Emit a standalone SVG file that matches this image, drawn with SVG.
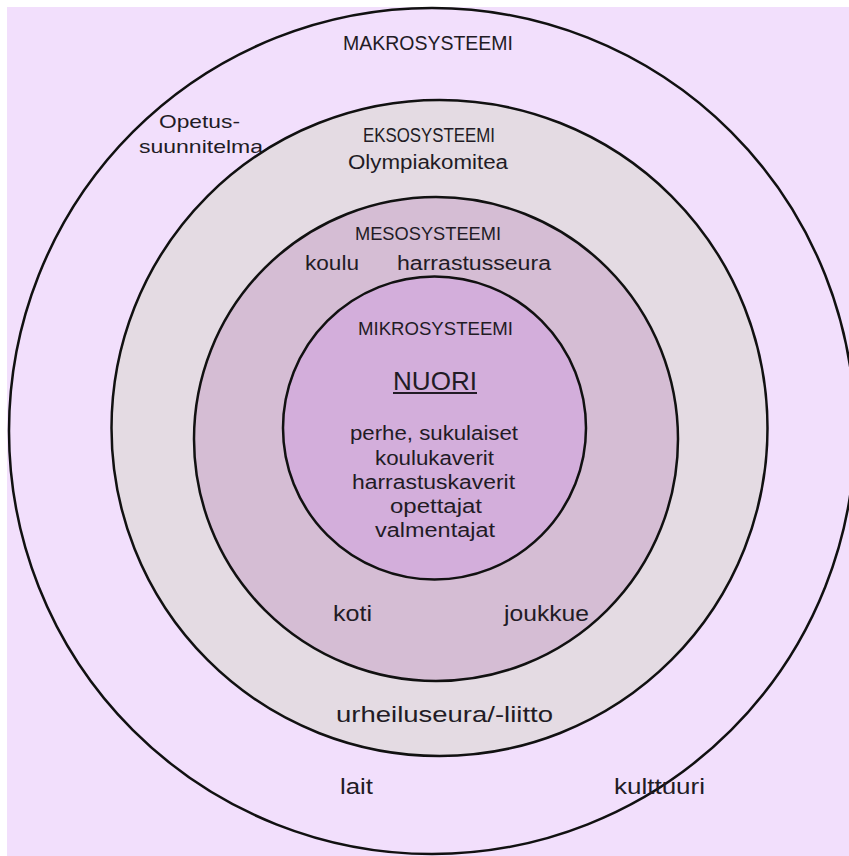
<svg xmlns="http://www.w3.org/2000/svg" width="849" height="856" viewBox="0 0 849 856">
  <style>
    .ring { stroke: #111111; stroke-width: 2.5; }
    text { font-family: "Liberation Sans", Arial, sans-serif; fill: #221b25; }
    .t { font-size: 20px; }
    .big { font-size: 22.5px; }
  </style>
  <rect x="7" y="7" width="842" height="849" fill="#f2dffc"/>
  <g id="makrosysteemi">
    <circle class="ring" cx="432" cy="431" r="423" fill="#f2dffc"/>
    <text x="343" y="50" font-size="21" textLength="170" lengthAdjust="spacingAndGlyphs">MAKROSYSTEEMI</text>
    <text x="159" y="128" font-size="18.5" textLength="81" lengthAdjust="spacingAndGlyphs">Opetus-</text>
    <text x="139" y="153" font-size="18.5" textLength="124" lengthAdjust="spacingAndGlyphs">suunnitelma</text>
    <text class="big" x="340" y="794" textLength="33" lengthAdjust="spacingAndGlyphs">lait</text>
    <text class="big" x="614" y="794" textLength="91" lengthAdjust="spacingAndGlyphs">kulttuuri</text>
  </g>
  <g id="eksosysteemi">
    <circle class="ring" cx="439.5" cy="428" r="328" fill="#e4dbe3"/>
    <text x="363" y="142" font-size="19.5" textLength="132" lengthAdjust="spacingAndGlyphs">EKSOSYSTEEMI</text>
    <text x="348" y="169" font-size="19.5" textLength="160" lengthAdjust="spacingAndGlyphs">Olympiakomitea</text>
    <text class="big" x="336" y="722" textLength="217" lengthAdjust="spacingAndGlyphs">urheiluseura/-liitto</text>
  </g>
  <g id="mesosysteemi">
    <circle class="ring" cx="436" cy="439" r="242" fill="#d5bdd4"/>
    <text x="355" y="240" font-size="18.5" textLength="146" lengthAdjust="spacingAndGlyphs">MESOSYSTEEMI</text>
    <text x="305" y="270" font-size="19.5" textLength="54" lengthAdjust="spacingAndGlyphs">koulu</text>
    <text x="397" y="270" font-size="19.5" textLength="154" lengthAdjust="spacingAndGlyphs">harrastusseura</text>
    <text class="big" x="333" y="621" textLength="39" lengthAdjust="spacingAndGlyphs">koti</text>
    <text class="big" x="504" y="621" textLength="85" lengthAdjust="spacingAndGlyphs">joukkue</text>
  </g>
  <g id="mikrosysteemi">
    <circle class="ring" cx="434.5" cy="428" r="151.5" fill="#d3aedb"/>
    <text x="358" y="335" font-size="18.5" textLength="155" lengthAdjust="spacingAndGlyphs">MIKROSYSTEEMI</text>
    <text x="393" y="390" font-size="26.5" textLength="84" lengthAdjust="spacingAndGlyphs">NUORI</text>
    <line x1="393" y1="393" x2="477" y2="393" stroke="#221b25" stroke-width="1.8"/>
    <text class="t" x="350" y="440" textLength="168" lengthAdjust="spacingAndGlyphs">perhe, sukulaiset</text>
    <text class="t" x="375" y="465" textLength="119" lengthAdjust="spacingAndGlyphs">koulukaverit</text>
    <text class="t" x="352" y="489" textLength="163" lengthAdjust="spacingAndGlyphs">harrastuskaverit</text>
    <text class="t" x="390" y="513" textLength="92" lengthAdjust="spacingAndGlyphs">opettajat</text>
    <text class="t" x="375" y="537" textLength="120" lengthAdjust="spacingAndGlyphs">valmentajat</text>
  </g>
  <g id="connectors"/>
</svg>
